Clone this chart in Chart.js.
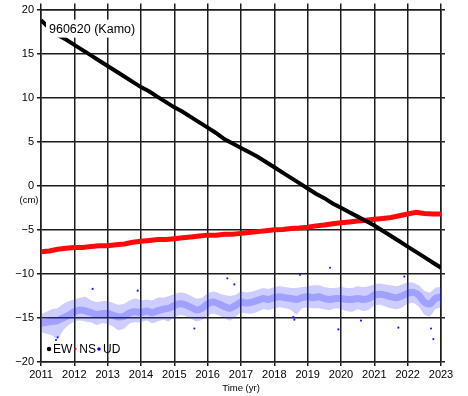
<!DOCTYPE html>
<html>
<head>
<meta charset="utf-8">
<script src="https://cdn.jsdelivr.net/npm/chart.js@4/dist/chart.umd.min.js"></script>
<style>
  html, body { margin: 0; padding: 0; background: #fff; }
  #wrap { width: 468px; height: 396px; position: relative; }
</style>
</head>
<body>
<div id="wrap"><canvas id="gpsChart"></canvas></div>
<script>
const stationLabel = '960620 (Kamo)';
const seriesNames = ['EW', 'NS', 'UD'];

const qTimes = [2011, 2011.25, 2011.5, 2011.75, 2012, 2012.25, 2012.5, 2012.75,
    2013, 2013.25, 2013.5, 2013.75, 2014, 2014.25, 2014.5, 2014.75,
    2015, 2015.25, 2015.5, 2015.75, 2016, 2016.25, 2016.5, 2016.75,
    2017, 2017.25, 2017.5, 2017.75, 2018, 2018.25, 2018.5, 2018.75,
    2019, 2019.25, 2019.5, 2019.75, 2020, 2020.25, 2020.5, 2020.75,
    2021, 2021.25, 2021.5, 2021.75, 2022, 2022.25, 2022.5, 2022.75, 2023];
const ewValues = [18.8, 17.9, 17.1, 16.6, 16.0, 15.4, 14.8, 14.2,
    13.6, 13.0, 12.4, 11.8, 11.2, 10.7, 10.1, 9.5,
    8.9, 8.4, 7.8, 7.2, 6.6, 6.0, 5.3, 4.8,
    4.3, 3.8, 3.3, 2.7, 2.1, 1.5, 0.9, 0.3,
    -0.3, -0.9, -1.4, -2.0, -2.5, -3.0, -3.5, -4.0,
    -4.5, -5.1, -5.7, -6.3, -6.9, -7.5, -8.1, -8.7, -9.3];
const nsValues = [-7.5, -7.4, -7.2, -7.1, -7.0, -7.0, -6.9, -6.8,
    -6.8, -6.7, -6.6, -6.4, -6.3, -6.2, -6.1, -6.1,
    -6.0, -5.9, -5.8, -5.7, -5.6, -5.6, -5.5, -5.5,
    -5.4, -5.3, -5.2, -5.1, -5.0, -4.95, -4.85, -4.8,
    -4.7, -4.55, -4.45, -4.3, -4.2, -4.1, -4.0, -3.9,
    -3.8, -3.7, -3.6, -3.4, -3.2, -3.0, -3.15, -3.2, -3.2];

// two-monthly samples of the UD cloud: centre and outer spread
const bTimes = [2011, 2011.17, 2011.33, 2011.5, 2011.67, 2011.83,
    2012, 2012.17, 2012.33, 2012.5, 2012.67, 2012.83,
    2013, 2013.17, 2013.33, 2013.5, 2013.67, 2013.83,
    2014, 2014.17, 2014.33, 2014.5, 2014.67, 2014.83,
    2015, 2015.17, 2015.33, 2015.5, 2015.67, 2015.83,
    2016, 2016.17, 2016.33, 2016.5, 2016.67, 2016.83,
    2017, 2017.17, 2017.33, 2017.5, 2017.67, 2017.83,
    2018, 2018.17, 2018.33, 2018.5, 2018.67, 2018.83,
    2019, 2019.17, 2019.33, 2019.5, 2019.67, 2019.83,
    2020, 2020.17, 2020.33, 2020.5, 2020.67, 2020.83,
    2021, 2021.17, 2021.33, 2021.5, 2021.67, 2021.83,
    2022, 2022.17, 2022.33, 2022.5, 2022.67, 2022.83, 2023];
const udMid = [-15.6, -15.5, -15.4, -15.3, -15.0, -14.7,
    -14.3, -14.1, -14.2, -14.4, -14.6, -14.5,
    -14.5, -14.7, -14.9, -14.8, -14.4, -14.3,
    -14.4, -14.2, -14.4, -14.2, -14.0, -13.9,
    -13.6, -13.4, -13.5, -13.8, -14.1, -13.9,
    -13.4, -13.2, -13.4, -13.7, -13.9, -13.6,
    -13.2, -13.3, -13.2, -13.0, -12.8, -12.9,
    -12.7, -12.6, -12.7, -12.8, -12.9, -12.7,
    -12.6, -12.7, -12.6, -12.8, -12.9, -12.8,
    -12.8, -12.9, -12.9, -12.8, -12.9, -12.8,
    -12.4, -12.3, -12.4, -12.6, -12.7, -12.5,
    -12.2, -12.1, -12.4, -13.2, -13.4, -12.8, -12.6];
const udLow = [-16.6, -16.8, -17.0, -17.4, -16.4, -15.8,
    -15.4, -15.3, -15.4, -15.5, -15.8, -15.6,
    -15.7, -16.0, -16.4, -16.2, -15.6, -15.5,
    -15.5, -15.3, -15.6, -15.4, -15.2, -15.4,
    -14.9, -14.7, -14.8, -15.1, -15.4, -15.2,
    -14.7, -14.5, -14.7, -15.0, -15.3, -14.9,
    -14.4, -14.5, -14.5, -14.3, -14.0, -14.1,
    -13.9, -13.8, -13.9, -14.1, -14.6, -13.9,
    -13.8, -13.9, -13.9, -14.0, -14.1, -13.9,
    -14.0, -14.2, -14.3, -14.0, -14.2, -14.1,
    -13.6, -13.5, -13.7, -13.9, -14.0, -13.8,
    -13.4, -13.3, -13.7, -14.6, -14.8, -14.0, -13.8];
const udHigh = [-14.6, -14.3, -14.0, -13.9, -13.4, -13.1,
    -12.9, -12.7, -12.6, -13.0, -13.2, -13.1,
    -13.1, -13.3, -13.5, -13.4, -13.0, -12.8,
    -13.0, -12.9, -13.0, -12.7, -12.7, -12.5,
    -12.3, -12.1, -12.2, -12.5, -12.8, -12.7,
    -12.2, -12.0, -12.2, -12.4, -12.5, -12.4,
    -12.0, -12.1, -12.0, -11.8, -11.6, -11.7,
    -11.5, -11.4, -11.5, -11.6, -11.6, -11.5,
    -11.4, -11.3, -11.3, -11.5, -11.6, -11.6,
    -11.5, -11.6, -11.6, -11.4, -11.5, -11.4,
    -11.2, -11.1, -11.2, -11.3, -11.4, -11.2,
    -11.0, -11.0, -11.3, -11.9, -12.1, -11.6, -11.5];

// stray UD points standing out of the cloud
const udOutTimes = [2011.45, 2011.5, 2012.55, 2013.9, 2015.6, 2016.59, 2016.8, 2018.57, 2018.6, 2018.77,
    2019.67, 2019.92, 2020.6, 2021.72, 2021.9, 2022.77, 2022.7];
const udOutValues = [-17.5, -17.2, -11.7, -11.9, -16.2, -10.5, -11.2, -14.9, -15.2, -10.1,
    -9.3, -16.3, -15.3, -16.1, -10.3, -17.4, -16.2];

const gridColor = '#1c1c1c';
const fontFamily = '"Liberation Sans", Arial, sans-serif';

function pts(times, vals) {
    return times.map((t, i) => ({ x: t, y: vals[i] }));
}

function minusLabel(v) {
    return v < 0 ? '\u2212' + Math.abs(v) : String(v);
}

const overlayPlugin = {
    id: 'overlay',
    afterDatasetsDraw(chart) {
        const { ctx, chartArea } = chart;
        const yScale = chart.scales.y;
        ctx.save();

        // station label on a white box
        ctx.font = '12.5px ' + fontFamily;
        const w = ctx.measureText(stationLabel).width;
        ctx.fillStyle = '#fff';
        ctx.fillRect(chartArea.left + 5, chartArea.top + 10, w + 6, 18);
        ctx.fillStyle = '#000';
        ctx.textBaseline = 'middle';
        ctx.textAlign = 'left';
        ctx.fillText(stationLabel, chartArea.left + 8, chartArea.top + 20);

        // unit under the zero label
        ctx.font = '9.5px ' + fontFamily;
        ctx.textAlign = 'center';
        ctx.fillText('(cm)', chartArea.left - 12, yScale.getPixelForValue(0) + 15);

        // legend
        const colors = ['#000', '#ff0000', '#0000ff'];
        const dotR = [2.2, 1.2, 1.8];
        ctx.font = '12px ' + fontFamily;
        ctx.textAlign = 'left';
        let lx = chartArea.left + 8;
        const ly = chartArea.bottom - 13;
        seriesNames.forEach((name, i) => {
            ctx.beginPath();
            ctx.fillStyle = colors[i];
            ctx.arc(lx, ly, dotR[i], 0, Math.PI * 2);
            ctx.fill();
            ctx.fillStyle = '#000';
            ctx.fillText(name, lx + 4, ly + 0.5);
            lx += ctx.measureText(name).width + 7;
        });
        ctx.restore();
    }
};

new Chart(document.getElementById('gpsChart'), {
    type: 'line',
    plugins: [overlayPlugin],
    data: {
        datasets: [{
            label: seriesNames[0],
            data: pts(qTimes, ewValues),
            borderColor: '#000',
            borderWidth: 4,
            pointRadius: 0,
            tension: 0
        }, {
            label: seriesNames[1],
            data: pts(qTimes, nsValues),
            borderColor: '#ff0a0a',
            borderWidth: 5,
            pointRadius: 0,
            tension: 0
        }, {
            type: 'scatter',
            label: 'UD outliers',
            data: pts(udOutTimes, udOutValues),
            backgroundColor: '#2020ff',
            borderWidth: 0,
            pointRadius: 1.1
        }, {
            label: 'UD core',
            data: pts(bTimes, udMid),
            borderColor: 'rgba(30, 30, 255, 0.26)',
            borderWidth: 7,
            pointRadius: 0,
            tension: 0.3
        }, {
            label: seriesNames[2],
            data: pts(bTimes, udHigh),
            borderWidth: 0,
            borderColor: 'rgba(0, 0, 0, 0)',
            backgroundColor: 'rgba(60, 60, 255, 0.26)',
            fill: '+1',
            pointRadius: 0,
            tension: 0.2
        }, {
            label: 'UD low',
            data: pts(bTimes, udLow),
            borderWidth: 0,
            borderColor: 'rgba(0, 0, 0, 0)',
            pointRadius: 0,
            tension: 0.2
        }]
    },
    options: {
        responsive: true,
        maintainAspectRatio: false,
        animation: false,
        layout: { padding: 0 },
        plugins: {
            legend: { display: false },
            tooltip: { enabled: false }
        },
        scales: {
            x: {
                type: 'linear',
                position: 'bottom',
                min: 2011,
                max: 2023,
                afterFit: (s) => { s.height = 34; },
                ticks: {
                    stepSize: 1,
                    autoSkip: false,
                    maxRotation: 0,
                    padding: 2,
                    color: '#000',
                    font: { size: 11, family: fontFamily },
                    callback: (v) => String(v)
                },
                grid: { color: gridColor, lineWidth: 1.5, tickLength: 4 },
                border: { color: gridColor, width: 1.5 },
                title: {
                    display: true,
                    text: 'Time (yr)',
                    color: '#000',
                    font: { size: 9.5, family: fontFamily },
                    padding: { top: 0, bottom: 2 }
                }
            },
            x2: {
                type: 'linear',
                position: 'top',
                min: 2011,
                max: 2023,
                afterFit: (s) => { s.height = 6; },
                ticks: { stepSize: 1, display: false },
                grid: { color: gridColor, lineWidth: 1.5, tickLength: 6, drawOnChartArea: false },
                border: { color: gridColor, width: 1.5 }
            },
            y: {
                min: -20,
                max: 20,
                afterFit: (s) => { s.width = 41; },
                ticks: {
                    stepSize: 5,
                    padding: 3,
                    color: '#000',
                    font: { size: 11, family: fontFamily },
                    callback: minusLabel
                },
                grid: { color: gridColor, lineWidth: 1.5, tickLength: 4 },
                border: { color: gridColor, width: 1.5 }
            },
            y2: {
                position: 'right',
                min: -20,
                max: 20,
                afterFit: (s) => { s.width = 27; },
                ticks: { stepSize: 5, display: false },
                grid: { color: gridColor, lineWidth: 1.5, tickLength: 4, drawOnChartArea: false },
                border: { color: gridColor, width: 1.5 }
            }
        }
    }
});
</script>
</body>
</html>
